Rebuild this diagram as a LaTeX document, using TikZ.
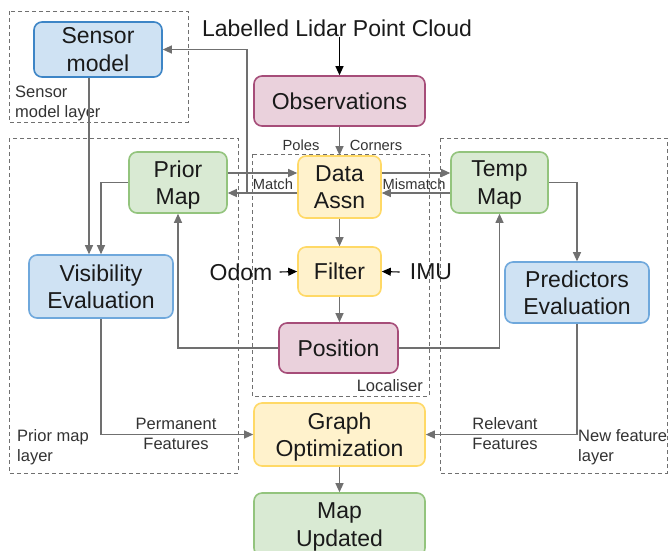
\documentclass[tikz,border=0pt]{standalone}
\usepackage{fontspec}
\setmainfont{Liberation Sans}
\usetikzlibrary{arrows.meta,calc}
\definecolor{bluef}{HTML}{CFE2F3}
\definecolor{blued}{HTML}{3D85C6}
\definecolor{bluel}{HTML}{6FA8DC}
\definecolor{pinkf}{HTML}{EAD1DC}
\definecolor{pinkd}{HTML}{A64D79}
\definecolor{yelf}{HTML}{FFF2CC}
\definecolor{yeld}{HTML}{FFD966}
\definecolor{grnf}{HTML}{D9EAD3}
\definecolor{grnd}{HTML}{93C47D}
\definecolor{edgec}{HTML}{707070}
\definecolor{txt}{HTML}{1A1A1A}
\definecolor{lbl}{HTML}{333333}
\tikzset{
  box/.style={rounded corners=8pt, line width=1.6pt, inner sep=0pt, align=center,
    font=\fontsize{23}{27.6}\selectfont, text=txt, text depth=-3pt},
  bluebox/.style={box, fill=bluef, draw=bluel},
  pinkbox/.style={box, fill=pinkf, draw=pinkd},
  yelbox/.style={box, fill=yelf, draw=yeld},
  grnbox/.style={box, fill=grnf, draw=grnd},
  arr/.style={draw=edgec, line width=1.1pt, -{Triangle[length=9pt,width=8pt]}},
  barr/.style={draw=black, line width=1.1pt, -{Triangle[length=9pt,width=8pt]}},
  layer/.style={draw=edgec, line width=0.9pt, dash pattern=on 4pt off 3pt},
  small/.style={font=\fontsize{14.7}{18}\selectfont, text=lbl, inner sep=0pt},
  mid/.style={font=\fontsize{16.5}{20}\selectfont, text=lbl, inner sep=0pt},
}
\begin{document}
\begin{tikzpicture}[x=1pt,y=-1pt]
\clip (0,0) rectangle (668,550);
\fill[white] (0,0) rectangle (668,550);
% layers
\draw[layer] (9,11) rectangle (188,122);
\draw[layer] (9,138) rectangle (238,473);
\draw[layer] (440,138) rectangle (667,473);
\draw[layer] (252,154) rectangle (429,396);
\node[mid, anchor=west, align=left] (lsm) at (15,103) {Sensor\\model layer};
\node[mid, anchor=west, align=left] (lpm) at (17,447) {Prior map\\layer};
\node[mid, anchor=west, align=left] (lnf) at (578,447) {New feature\\layer};
\node[mid, anchor=east] (lloc) at (423,386) {Localiser};
% title
\node[font=\fontsize{23}{27.6}\selectfont, text=txt, inner sep=0pt] (title) at (337,28) {Labelled Lidar Point Cloud};
% nodes
\node[bluebox, draw=blued, minimum width=128pt, minimum height=55pt] (sm) at (98,49.5) {Sensor\\model};
\node[pinkbox, minimum width=171pt, minimum height=50pt] (obs) at (339.5,101) {Observations};
\node[yelbox, minimum width=83pt, minimum height=62pt] (da) at (339.5,187) {Data\\Assn};
\node[yelbox, minimum width=83pt, minimum height=49pt] (fi) at (339.5,271.5) {Filter};
\node[pinkbox, minimum width=119pt, minimum height=50pt] (pos) at (338.5,348) {Position};
\node[yelbox, minimum width=171pt, minimum height=63pt] (go) at (339.5,434.5) {Graph\\Optimization};
\node[grnbox, minimum width=171pt, minimum height=63pt] (mu) at (339.5,524.5) {Map\\Updated};
\node[grnbox, minimum width=98pt, minimum height=61pt] (pm) at (178,182.5) {Prior\\Map};
\node[grnbox, minimum width=97pt, minimum height=61pt] (tm) at (499.5,182.5) {Temp\\Map};
\node[bluebox, minimum width=144pt, minimum height=63pt] (vis) at (101,286.5) {Visibility\\Evaluation};
\node[bluebox, minimum width=144pt, minimum height=61pt] (pe) at (577,292.5) {Predictors\\Evaluation};
\node[font=\fontsize{23}{27.6}\selectfont, text=txt, inner sep=0pt] (odom) at (241,272) {Odom};
\node[font=\fontsize{23}{27.6}\selectfont, text=txt, inner sep=0pt] (imu) at (431,272) {IMU};
% helper coordinates
\coordinate (r1) at (0,173);
\coordinate (r2) at (0,193);
\coordinate (br) at (247,193);
\coordinate (c89) at (89,0);
% edges
\draw[barr] (title.south -| obs.north) -- (obs.north);
\draw[arr] (obs.south) -- (da.north);
\node[small] (lpoles) at (301,145) {Poles};
\node[small] (lcorners) at (376,145) {Corners};
\draw[arr] (pm.east |- r1) -- (da.west |- r1);
\draw[arr] (da.west |- r2) -- (pm.east |- r2);
\draw[arr] (da.east |- r1) -- (tm.west |- r1);
\draw[arr] (tm.west |- r2) -- (da.east |- r2);
\node[small] (lmatch) at (273,184) {Match};
\node[small] (lmis) at (414,184) {Mismatch};
\draw[arr] (br) |- (sm.east);
\draw[arr] (sm.south -| c89) -- (vis.north -| c89);
\draw[arr] (pm.west) -| (vis.north);
\draw[arr] (pos.west) -| (pm.south);
\draw[arr] (pos.east) -| (tm.south);
\draw[arr] (tm.east) -| (pe.north);
\draw[arr] (vis.south) |- (go.west);
\draw[arr] (pe.south) |- (go.east);
\node[mid, align=center] (lperm) at (176,434) {Permanent\\Features};
\node[mid, align=left] (lrel) at (505,434) {Relevant\\Features};
\draw[arr] (go.south) -- (mu.north);
\draw[arr] (da.south) -- (fi.north);
\draw[arr] (fi.south) -- (fi.south |- pos.north);
\draw[barr] ([xshift=7pt]odom.east) -- (fi.west);
\draw[barr] ([xshift=-10pt]imu.west) -- (fi.east);
\end{tikzpicture}
\end{document}
